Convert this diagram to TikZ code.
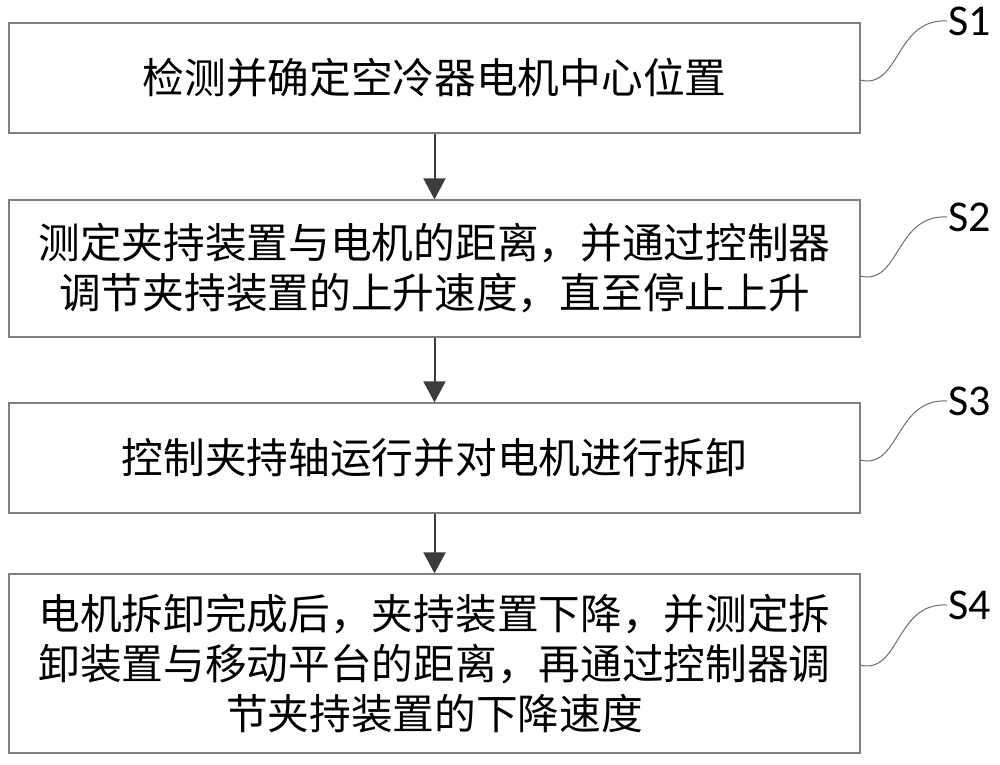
\documentclass[tikz,border=0pt]{standalone}
\usepackage{fontspec}
\newfontfamily\cjk{Noto Sans CJK SC}
\newfontfamily\lab{Carlito}
\usetikzlibrary{arrows.meta}
\definecolor{boxgray}{RGB}{128,128,128}
\definecolor{arrowdark}{RGB}{60,60,60}
\definecolor{squig}{RGB}{110,110,110}
\tikzset{
  stepbox/.style={draw=boxgray, line width=1.3pt, rectangle, inner sep=0pt,
    minimum width=851pt, align=center,
    font=\cjk\fontsize{41.7}{50}\selectfont},
  flowarrow/.style={draw=arrowdark, line width=2pt,
    -{Triangle[width=22pt,length=21pt]}, fill=arrowdark},
  steplabel/.style={anchor=west, inner sep=1pt, font=\lab\fontsize{44}{44}\selectfont},
  squiggle/.style={draw=squig, line width=1pt}
}
\begin{document}
\begin{tikzpicture}[x=1pt,y=-1pt]
\useasboundingbox (0,0) rectangle (1000,764);
\fill[white] (0,0) rectangle (1000,764);

\node[stepbox, minimum height=110pt] (b1) at (434.5,78) {检测并确定空冷器电机中心位置};
\node[stepbox, minimum height=137pt] (b2) at (434.5,268.5) {测定夹持装置与电机的距离，并通过控制器\\调节夹持装置的上升速度，直至停止上升};
\node[stepbox, minimum height=110pt] (b3) at (434.5,458) {控制夹持轴运行并对电机进行拆卸};
\node[stepbox, minimum height=179pt] (b4) at (434.5,663.5) {电机拆卸完成后，夹持装置下降，并测定拆\\卸装置与移动平台的距离，再通过控制器调\\节夹持装置的下降速度};

\draw[flowarrow] (b1.south) -- (b2.north);
\draw[flowarrow] (b2.south) -- (b3.north);
\draw[flowarrow] (b3.south) -- (b4.north);

\node[steplabel] (l1) at (947,21) {S1};
\node[steplabel] (l2) at (947,217) {S2};
\node[steplabel] (l3) at (947,401) {S3};
\node[steplabel] (l4) at (947,605) {S4};

\coordinate (c1) at (860,80);
\coordinate (c2) at (860,276);
\coordinate (c3) at (860,460);
\coordinate (c4) at (860,665);

\draw[squiggle] (c1) .. controls +(40,10) and +(-52,-3) .. (l1.west);
\draw[squiggle] (c2) .. controls +(40,10) and +(-52,-3) .. (l2.west);
\draw[squiggle] (c3) .. controls +(40,10) and +(-52,-3) .. (l3.west);
\draw[squiggle] (c4) .. controls +(40,10) and +(-52,-3) .. (l4.west);
\end{tikzpicture}
\end{document}
